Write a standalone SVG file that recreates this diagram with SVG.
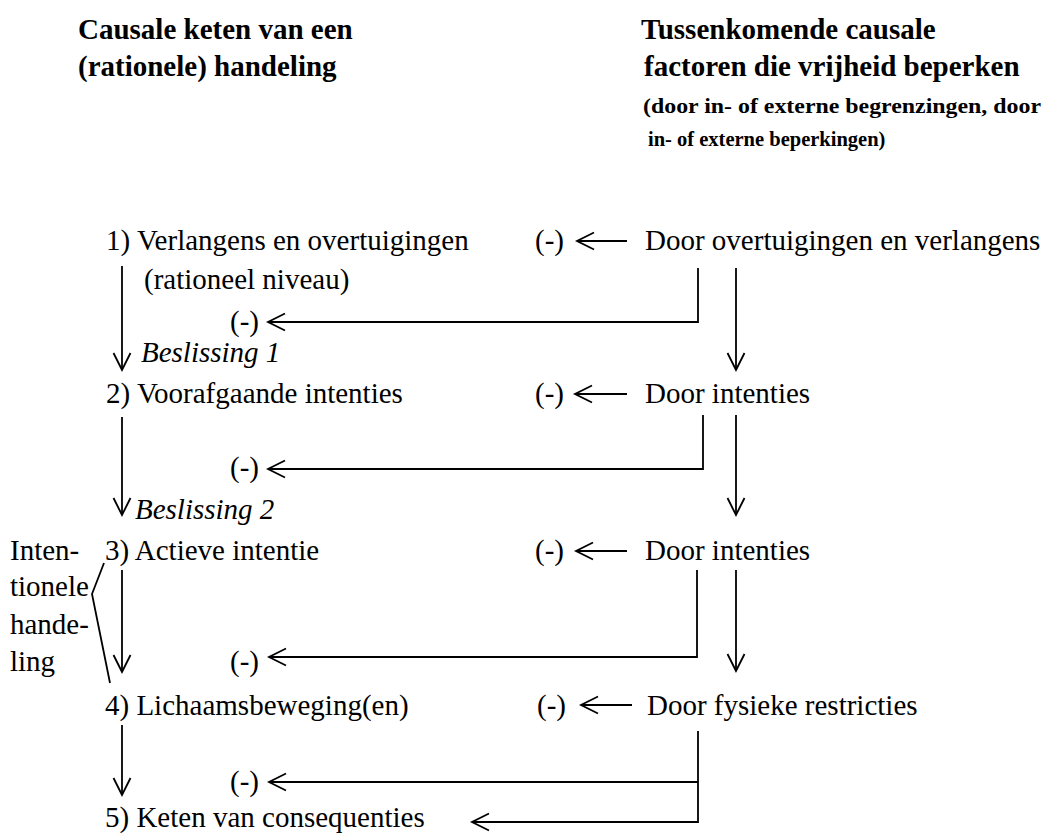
<svg xmlns="http://www.w3.org/2000/svg" width="1047" height="834" viewBox="0 0 1047 834">
  <style>
    text { font-family: "Liberation Serif", "Times New Roman", serif; fill: #000; }
    .h { font-size: 29px; font-weight: bold; }
    .hs { font-size: 20.5px; font-weight: bold; }
    .t { font-size: 29px; }
    .i { font-size: 29px; font-style: italic; }
    .ln { fill: none; stroke: #000; stroke-width: 1.8; }
    .ar { fill: none; stroke: #000; stroke-width: 1.8; marker-end: url(#ah); }
  </style>
  <defs>
    <marker id="ah" markerUnits="userSpaceOnUse" viewBox="-18 -10 20 20" refX="0" refY="0" markerWidth="20" markerHeight="20" orient="auto" overflow="visible">
      <path d="M-17,-8.5 L0,0 L-17,8.5" fill="none" stroke="#000" stroke-width="1.8"/>
    </marker>
  </defs>
  <rect width="1047" height="834" fill="#fff"/>

  <g id="title-left">
    <text class="h" x="78" y="39">Causale keten van een</text>
    <text class="h" x="78" y="76">(rationele) handeling</text>
  </g>
  <g id="title-right">
    <text class="h" x="641" y="39">Tussenkomende causale</text>
    <text class="h" x="644" y="76">factoren die vrijheid beperken</text>
    <text class="hs" x="643" y="113" textLength="398" lengthAdjust="spacingAndGlyphs">(door in- of externe begrenzingen, door</text>
    <text class="hs" x="648" y="146"> in- of externe beperkingen)</text>
  </g>

  <g id="n1">
    <text class="t" x="106" y="250">1) Verlangens en overtuigingen</text>
    <text class="t" x="144" y="289">(rationeel niveau)</text>
  </g>
  <g id="d1"><text class="i" x="141" y="362">Beslissing 1</text></g>
  <g id="n2"><text class="t" x="106" y="403">2) Voorafgaande intenties</text></g>
  <g id="d2"><text class="i" x="135" y="519">Beslissing 2</text></g>
  <g id="n3"><text class="t" x="105" y="560">3) Actieve intentie</text></g>
  <g id="n4"><text class="t" x="105" y="715">4) Lichaamsbeweging(en)</text></g>
  <g id="n5"><text class="t" x="105" y="827">5) Keten van consequenties</text></g>

  <g id="intentionele-handeling">
    <text class="t" x="10" y="560">Inten-</text>
    <text class="t" x="10" y="596">tionele</text>
    <text class="t" x="10" y="634">hande-</text>
    <text class="t" x="10" y="671">ling</text>
    <polyline class="ln" points="104,563 92,594 110,683"/>
  </g>

  <g id="f1"><text class="t" x="645" y="250">Door overtuigingen en verlangens</text></g>
  <g id="f2"><text class="t" x="645" y="403">Door intenties</text></g>
  <g id="f3"><text class="t" x="645" y="560">Door intenties</text></g>
  <g id="f4"><text class="t" x="647" y="715">Door fysieke restricties</text></g>

  <g id="minus-labels">
    <text class="t" x="535" y="250">(-)</text>
    <text class="t" x="535" y="403">(-)</text>
    <text class="t" x="535" y="560">(-)</text>
    <text class="t" x="537" y="715">(-)</text>
    <text class="t" x="230" y="331">(-)</text>
    <text class="t" x="230" y="477">(-)</text>
    <text class="t" x="230" y="671">(-)</text>
    <text class="t" x="230" y="791">(-)</text>
  </g>

  <g id="connectors">
    <!-- left chain -->
    <line class="ar" x1="122" y1="266" x2="122" y2="370"/>
    <line class="ar" x1="122" y1="417" x2="122" y2="515"/>
    <line class="ar" x1="122" y1="570" x2="122" y2="672"/>
    <line class="ar" x1="122" y1="725" x2="122" y2="795"/>
    <!-- right chain -->
    <line class="ar" x1="736" y1="268" x2="736" y2="370"/>
    <line class="ar" x1="736" y1="415" x2="736" y2="515"/>
    <line class="ar" x1="736" y1="570" x2="736" y2="671"/>
    <!-- short arrows to (-) -->
    <line class="ar" x1="627" y1="241" x2="577" y2="241"/>
    <line class="ar" x1="627" y1="394" x2="575" y2="394"/>
    <line class="ar" x1="627" y1="551" x2="576" y2="551"/>
    <line class="ar" x1="632" y1="705" x2="581" y2="705"/>
    <!-- elbow connectors -->
    <polyline class="ar" points="698,268 698,322 268,322"/>
    <polyline class="ar" points="703,415 703,469 268,469"/>
    <polyline class="ar" points="697,570 697,657 269,657"/>
    <polyline class="ar" points="698,731 698,822 472,822"/>
    <line class="ar" x1="698" y1="782" x2="269" y2="782"/>
  </g>
</svg>
